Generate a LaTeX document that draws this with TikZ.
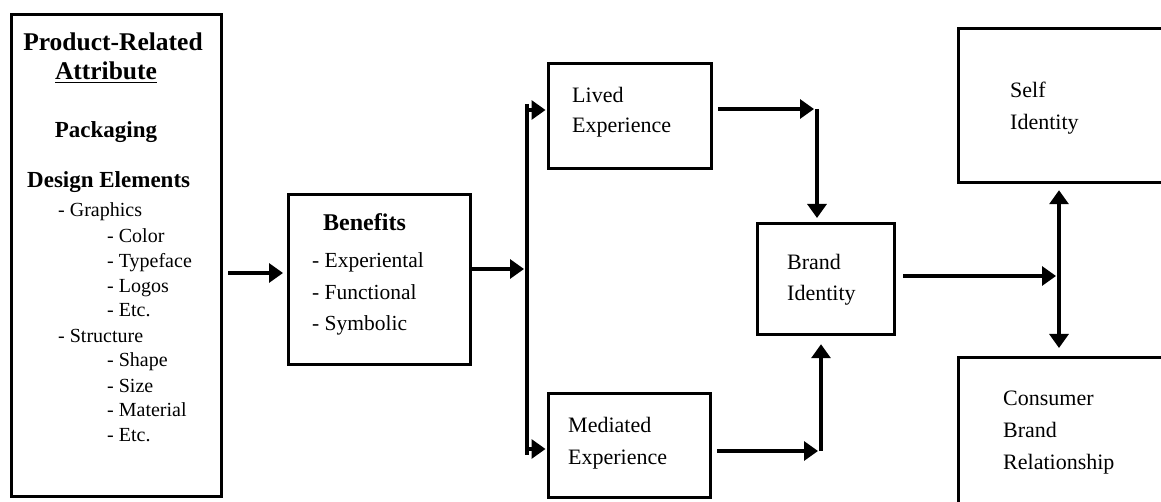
\documentclass[tikz,border=0pt]{standalone}
\usepackage{fontspec}
\setmainfont{Liberation Serif}
\usetikzlibrary{arrows.meta}
\begin{document}
\begin{tikzpicture}[x=1pt,y=-1pt,
 box/.style={draw, line width=3.2pt, inner sep=0pt, anchor=north west},
 bt/.style={font=\fontsize{23}{27}\selectfont\bfseries, inner sep=0pt},
 ht/.style={font=\fontsize{25.5}{30}\selectfont\bfseries, inner sep=0pt, anchor=base},
 lt/.style={font=\fontsize{20}{24}\selectfont, inner sep=0pt, anchor=mid west, yshift=-2pt},
 tx/.style={font=\fontsize{22}{26}\selectfont, inner sep=0pt, anchor=mid west, yshift=-5pt},
 conn/.style={line width=3.2pt},
 tip/.tip={Triangle[length=14pt,width=19pt]},
 arr/.style={conn, -tip},
 dbl/.style={conn, tip-tip},
]
\path[use as bounding box] (0,0) rectangle (1161,502);
\clip (0,0) rectangle (1161,502);

% boxes
\node[box, minimum width=210pt, minimum height=482pt] (attr) at (10,13) {};
\node[box, minimum width=182pt, minimum height=170pt] (ben) at (287,193) {};
\node[box, minimum width=163pt, minimum height=105pt] (lived) at (547,62) {};
\node[box, minimum width=162pt, minimum height=104pt] (med) at (547,392) {};
\node[box, minimum width=137pt, minimum height=111pt] (brand) at (756,222) {};
\node[box, minimum width=260pt, minimum height=154pt] (self) at (957,27) {};
\node[box, minimum width=260pt, minimum height=200pt] (cons) at (957,356) {};

% left box text
\node[ht] (a1) at (113,51) {Product-Related};
\node[ht] (a2) at (106,80) {\underline{Attribute}};
\node[bt, anchor=base] (a3) at (106,138) {Packaging};
\node[bt, anchor=base west] (a4) at (27,188) {Design Elements};
\node[lt] (g0) at (58,212) {- Graphics};
\node[lt] (g1) at (107,238) {- Color};
\node[lt] (g2) at (107,263) {- Typeface};
\node[lt] (g3) at (107,288) {- Logos};
\node[lt] (g4) at (107,312) {- Etc.};
\node[lt] (s0) at (58,338) {- Structure};
\node[lt] (s1) at (107,362) {- Shape};
\node[lt] (s2) at (107,388) {- Size};
\node[lt] (s3) at (107,412) {- Material};
\node[lt] (s4) at (107,437) {- Etc.};

% benefits text
\node[tx, font=\fontsize{24}{28}\selectfont\bfseries] (b0) at (323,223) {Benefits};
\node[tx, font=\fontsize{21.5}{26}\selectfont] (b1) at (312,260) {- Experiental};
\node[tx, font=\fontsize{21.5}{26}\selectfont] (b2) at (312,292) {- Functional};
\node[tx, font=\fontsize{21.5}{26}\selectfont] (b3) at (312,323) {- Symbolic};

% other texts
\node[tx] (l1) at (572,95) {Lived};
\node[tx] (l2) at (572,125) {Experience};
\node[tx] (m1) at (568,425) {Mediated};
\node[tx] (m2) at (568,457) {Experience};
\node[tx] (r1) at (787,262) {Brand};
\node[tx] (r2) at (787,293) {Identity};
\node[tx] (f1) at (1010,90) {Self};
\node[tx] (f2) at (1010,122) {Identity};
\node[tx] (c1) at (1003,398) {Consumer};
\node[tx] (c2) at (1003,430) {Brand};
\node[tx] (c3) at (1003,462) {Relationship};

% junction coordinates
\coordinate (yb) at (0,273);
\coordinate (sT) at (527,110);
\coordinate (sM) at (527,269);
\coordinate (sB) at (527,449);
\coordinate (sTe) at (527,104);
\coordinate (sBe) at (527,455);
\coordinate (lj) at (817,109);
\coordinate (mj) at (821,451);
\coordinate (bj) at (1059,276);

% connectors
\draw[arr, shorten <=5pt, shorten >=4pt] (attr.east |- yb) -- (ben.west |- yb);
\draw[arr, shorten >=3pt] (ben.east |- sM) -- (sM);
\draw[conn] (sTe) -- (sBe);
\draw[arr, shorten >=1.5pt] (sT) -- (lived.west |- sT);
\draw[arr, shorten >=1.5pt] (sB) -- (med.west |- sB);
\draw[arr, shorten <=5pt, shorten >=3pt] (lived.east |- lj) -- (lj);
\draw[arr, shorten >=4pt] (lj) -- (brand.north -| lj);
\draw[arr, shorten <=5pt, shorten >=3pt] (med.east |- mj) -- (mj);
\draw[arr, shorten >=8pt] (mj) -- (brand.south -| mj);
\draw[arr, shorten <=7pt, shorten >=3pt] (brand.east |- bj) -- (bj);
\draw[dbl, shorten <=6pt, shorten >=8pt] (self.south -| bj) -- (cons.north -| bj);
\end{tikzpicture}
\end{document}
